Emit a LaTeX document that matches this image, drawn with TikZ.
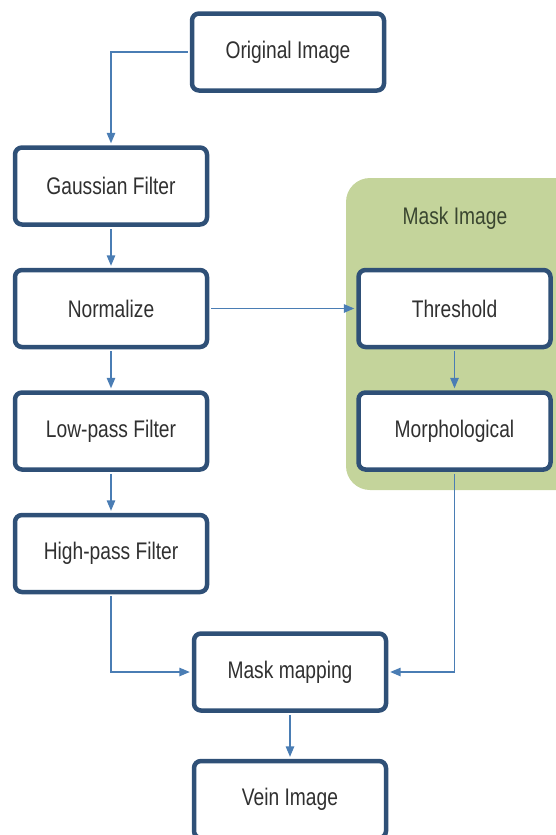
\documentclass[tikz,border=0pt]{standalone}
\usepackage{fontspec}
\setmainfont{Liberation Sans}[FakeStretch=0.8]
\usetikzlibrary{arrows,positioning,backgrounds}
\definecolor{boxline}{HTML}{2F5077}
\definecolor{flow}{HTML}{4A7DB4}
\definecolor{maskbg}{HTML}{C4D49B}
\definecolor{masktxt}{HTML}{3A4630}
\definecolor{txt}{HTML}{303030}

\begin{document}
\begin{tikzpicture}[x=1pt,y=-1pt,->,>=triangle 45,shorten >=2pt,shorten <=2pt,draw=flow,line width=1.4pt,
	block/.style={draw=boxline,line width=4.5pt,fill=white,rounded corners=7pt,minimum width=192pt,minimum height=77pt,text=txt,font=\fontsize{24}{27}\selectfont},
	node distance=41pt]
	\useasboundingbox (0,0) rectangle (555,835);

	\node[block] (orig) at (288,52) {Original Image};
	\node[block] (gauss) at (111,186) {Gaussian Filter};
	\node[block,below=of gauss] (norm) {Normalize};
	\node[block,below=of norm] (low) {Low-pass Filter};
	\node[block,below=of low] (high) {High-pass Filter};

	% mask branch
	\node[block,right=147pt of norm] (thr) {Threshold};
	\node[block,below=of thr] (morph) {Morphological};
	\node[text=masktxt,font=\fontsize{24}{27}\selectfont] (masktitle) at (455,218) {Mask Image};
	\begin{scope}[on background layer]
		\fill[maskbg,rounded corners=24pt] (346,178) rectangle (585,490);
	\end{scope}

	\node[block] (mapping) at (290,672) {Mask mapping};
	\node[block,below=46pt of mapping] (vein) {Vein Image};

	\draw (orig.west) -| (gauss.north);
	\draw (gauss) -- (norm);
	\draw (norm) -- (low);
	\draw (low) -- (high);
	\draw (norm) -- (thr);
	\draw (thr) -- (morph);
	\draw (high.south) |- (mapping.west);
	\draw (morph.south) |- (mapping.east);
	\draw (mapping) -- (vein);
\end{tikzpicture}
\end{document}
